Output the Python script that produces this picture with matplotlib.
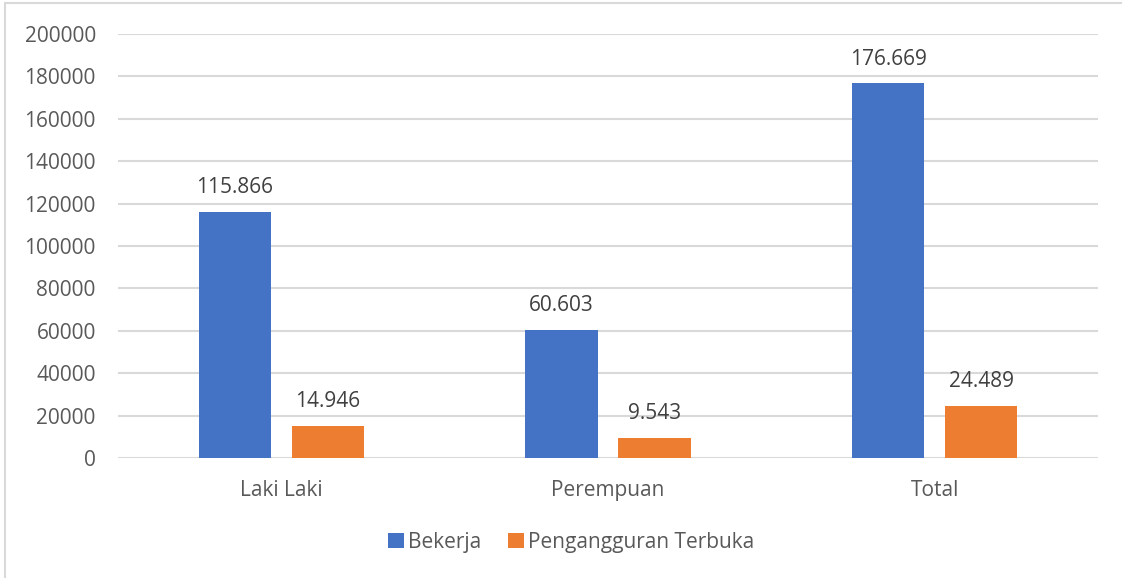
import numpy as np
import matplotlib.pyplot as plt
from matplotlib.patches import Rectangle

categories = ["Laki Laki", "Perempuan", "Total"]
bekerja = [115866, 60603, 176669]
pengangguran = [14946, 9543, 24489]
yticks = [0, 20000, 40000, 60000, 80000, 100000, 120000, 140000, 160000, 180000, 200000]

blue = "#4472C4"
orange = "#ED7D31"
text_col = "#595959"
label_col = "#404040"
grid_col = "#D9D9D9"

plt.rcParams['font.family'] = ['Open Sans', 'DejaVu Sans']

fig = plt.figure(figsize=(11.22, 5.78), dpi=100)
ax = fig.add_axes([0.1052, 0.2076, 0.8734, 0.7336])

x = np.arange(len(categories))
w = 0.222
off = 0.1425
b1 = ax.bar(x - off, bekerja, w, color=blue, label="Bekerja", zorder=3)
b2 = ax.bar(x + off, pengangguran, w, color=orange, label="Pengangguran Terbuka", zorder=3)

def fmt(v):
    return f"{v:,}".replace(",", ".")

for bars, vals in [(b1, bekerja), (b2, pengangguran)]:
    for rect, v in zip(bars, vals):
        ax.annotate(fmt(v), (rect.get_x() + rect.get_width() / 2, v),
                    xytext=(0, 10), textcoords="offset points",
                    ha="center", va="bottom", fontsize=15, color=label_col)

ax.set_xlim(-0.5, 2.5)
ax.set_ylim(0, 200000)
ax.set_yticks(yticks)
ax.set_yticklabels([str(t) for t in yticks])
ax.set_xticks(x)
ax.set_xticklabels(categories)
ax.tick_params(axis="both", length=0, labelsize=15, labelcolor=text_col)
ax.tick_params(axis="y", pad=16)
ax.tick_params(axis="x", pad=16)
ax.grid(axis="y", color=grid_col, linewidth=1.5, zorder=0)
for s in ax.spines.values():
    s.set_visible(False)

leg = fig.legend(loc="center", bbox_to_anchor=(0.509, 0.062), ncol=2, frameon=False,
                 fontsize=15, handlelength=0.75, handleheight=0.75, handletextpad=0.2,
                 columnspacing=1.3)
for t in leg.get_texts():
    t.set_color(text_col)

# chart border
fig.patches.append(Rectangle((5 / 1122, -0.1), 1.2, 1.1 - 3.5 / 578,
                             transform=fig.transFigure, fill=False,
                             edgecolor=grid_col, linewidth=1.5))

fig.savefig("out.png", dpi=100)
